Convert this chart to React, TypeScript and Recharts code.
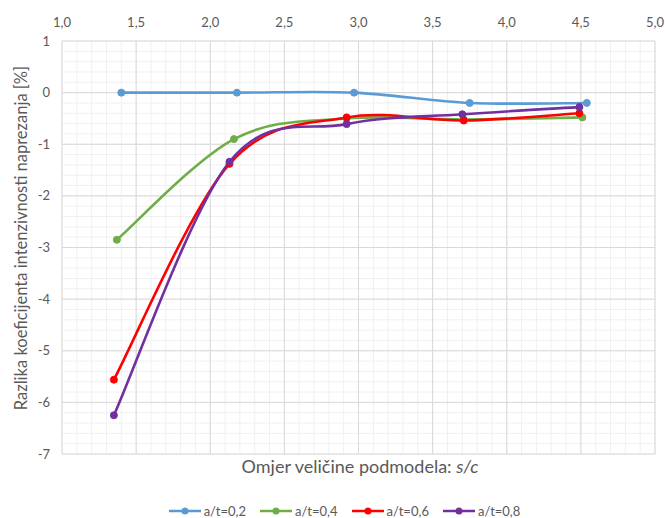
import { CartesianGrid, Line, LineChart, XAxis, YAxis } from "recharts";

const xTicks = [1, 1.5, 2, 2.5, 3, 3.5, 4, 4.5, 5];
const yTicks = [-7, -6, -5, -4, -3, -2, -1, 0, 1];

const at02 = [
  { x: 1.4, y: 0 },
  { x: 2.18, y: 0 },
  { x: 2.97, y: 0 },
  { x: 3.75, y: -0.2 },
  { x: 4.54, y: -0.2 },
];
const at04 = [
  { x: 1.37, y: -2.85 },
  { x: 2.16, y: -0.9 },
  { x: 2.92, y: -0.5 },
  { x: 3.71, y: -0.52 },
  { x: 4.51, y: -0.48 },
];
const at06 = [
  { x: 1.35, y: -5.56 },
  { x: 2.13, y: -1.38 },
  { x: 2.92, y: -0.48 },
  { x: 3.71, y: -0.54 },
  { x: 4.49, y: -0.4 },
];
const at08 = [
  { x: 1.35, y: -6.25 },
  { x: 2.13, y: -1.34 },
  { x: 2.92, y: -0.61 },
  { x: 3.7, y: -0.42 },
  { x: 4.49, y: -0.28 },
];

const series = [
  { name: "a/t=0,2", data: at02, color: "#5B9BD5" },
  { name: "a/t=0,4", data: at04, color: "#70AD47" },
  { name: "a/t=0,6", data: at06, color: "#FF0000" },
  { name: "a/t=0,8", data: at08, color: "#7030A0" },
];

const FONT = "Lato, 'Open Sans', sans-serif";
const TEXT = "#595959";

// Excel-like smoothed line (Catmull-Rom as cubic bezier)
const smooth = (context: any) => {
  let pts: [number, number][] = [];
  return {
    areaStart() {},
    areaEnd() {},
    lineStart() {
      pts = [];
    },
    lineEnd() {
      const n = pts.length;
      if (!n) return;
      context.moveTo(pts[0][0], pts[0][1]);
      for (let i = 0; i < n - 1; i++) {
        const p0 = pts[Math.max(i - 1, 0)];
        const p1 = pts[i];
        const p2 = pts[i + 1];
        const p3 = pts[Math.min(i + 2, n - 1)];
        context.bezierCurveTo(
          p1[0] + (p2[0] - p0[0]) / 6,
          p1[1] + (p2[1] - p0[1]) / 6,
          p2[0] - (p3[0] - p1[0]) / 6,
          p2[1] - (p3[1] - p1[1]) / 6,
          p2[0],
          p2[1]
        );
      }
    },
    point(x: number, y: number) {
      pts.push([x, y]);
    },
  };
};

const minorX = Array.from({ length: 41 }, (_, i) => i / 40);
const minorY = Array.from({ length: 41 }, (_, i) => i / 40);

const YTitle = () => (
  <text
    transform="rotate(-90, 21, 238)"
    x={21}
    y={238}
    textAnchor="middle"
    dominantBaseline="central"
    fill={TEXT}
    fontSize={16.5}
    fontFamily={FONT}
  >
    Razlika koeficijenta intenzivnosti naprezanja [%]
  </text>
);

export default function App() {
  return (
    <div
      style={{
        position: "absolute",
        left: 0,
        top: 0,
        width: 665,
        height: 518,
        background: "#fff",
        fontFamily: FONT,
      }}
    >
      <LineChart
        width={665}
        height={518}
        margin={{ top: 11, right: 10, bottom: 64, left: 0 }}
      >
        <CartesianGrid
          stroke="#F0F0F0"
          verticalCoordinatesGenerator={({ offset }: any) =>
            minorX.map((f) => offset.left + f * offset.width)
          }
          horizontalCoordinatesGenerator={({ offset }: any) =>
            minorY.map((f) => offset.top + f * offset.height)
          }
        />
        <CartesianGrid stroke="#D9D9D9" />
        <XAxis
          type="number"
          dataKey="x"
          orientation="top"
          domain={[1, 5]}
          ticks={xTicks}
          height={30}
          axisLine={false}
          tickLine={false}
          tickSize={0}
          tickMargin={14}
          tickFormatter={(v: number) => v.toFixed(1).replace(".", ",")}
          tick={{ fill: TEXT, fontSize: 13, fontFamily: FONT }}
          allowDuplicatedCategory={false}
        />
        <YAxis
          type="number"
          domain={[-7, 1]}
          ticks={yTicks}
          width={62}
          axisLine={false}
          tickLine={false}
          tickSize={0}
          tickMargin={12}
          tick={{ fill: TEXT, fontSize: 13, fontFamily: FONT }}
          label={{ content: () => <YTitle /> }}
        />
        {series.map((s) => (
          <Line
            key={s.name}
            data={s.data}
            dataKey="y"
            name={s.name}
            type={smooth as any}
            stroke={s.color}
            strokeWidth={2.6}
            dot={{ r: 3.5, fill: s.color, stroke: s.color, strokeWidth: 1 }}
            activeDot={false}
            isAnimationActive={false}
          />
        ))}
      </LineChart>
      <div
        style={{
          position: "absolute",
          left: 62,
          width: 596,
          top: 455,
          textAlign: "center",
          color: TEXT,
          fontSize: 18,
        }}
      >
        Omjer veličine podmodela: <i>s/c</i>
      </div>
      <div
        style={{
          position: "absolute",
          left: 12,
          width: 665,
          top: 503,
          display: "flex",
          justifyContent: "center",
          gap: 14,
          color: TEXT,
          fontSize: 13,
        }}
      >
        {series.map((s) => (
          <div key={s.name} style={{ display: "flex", alignItems: "center" }}>
            <svg width={32} height={10} style={{ marginRight: 3 }}>
              <line x1={0} y1={5} x2={32} y2={5} stroke={s.color} strokeWidth={2.5} />
              <circle cx={16} cy={5} r={3.5} fill={s.color} />
            </svg>
            <span>{s.name}</span>
          </div>
        ))}
      </div>
    </div>
  );
}
